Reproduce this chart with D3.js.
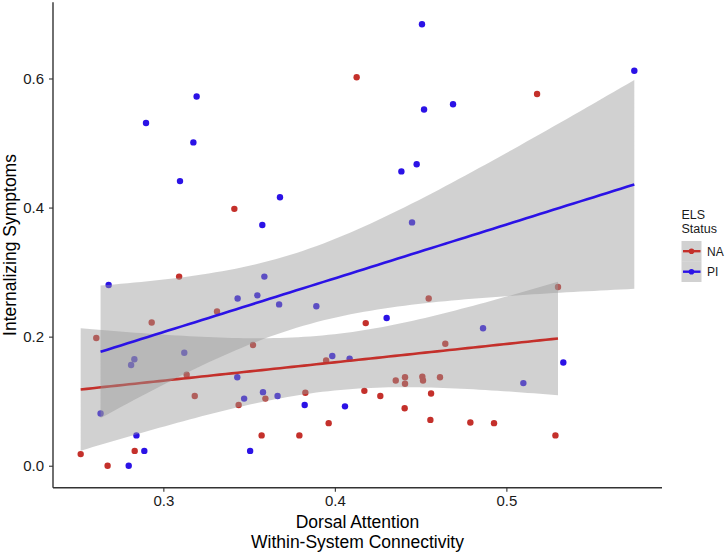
<!DOCTYPE html>
<html>
<head>
<meta charset="utf-8">
<script src="https://cdn.jsdelivr.net/npm/d3@7"></script>
<style>
  html, body { margin: 0; padding: 0; background: #fff; }
  svg { display: block; }
  text { font-family: "Liberation Sans", Arial, Helvetica, sans-serif; }
</style>
</head>
<body>
<svg id="chart" width="725" height="555"></svg>
<script>
// ---- data ----
const groups = ["NA", "PI"];
const groupColors = ["#c4302b", "#2b12e6"];

const naX = [0.3414, 0.4127, 0.5179, 0.3092, 0.3313, 0.2932, 0.2609, 0.3136, 0.3183, 0.3439,
             0.2833, 0.2518, 0.2675, 0.4547, 0.4180, 0.3523, 0.4644, 0.3949, 0.4355, 0.4409,
             0.4409, 0.4510, 0.4514, 0.4613, 0.3595, 0.3828, 0.4172, 0.4265, 0.4407, 0.4561,
             0.3964, 0.3573, 0.3793, 0.4557, 0.4790, 0.4928, 0.5301, 0.5286];
const naY = [0.398, 0.602, 0.576, 0.293, 0.239, 0.222, 0.198, 0.141, 0.108, 0.094,
             0.023, 0.018, 0.000, 0.259, 0.221, 0.187, 0.189, 0.163, 0.132, 0.137,
             0.127, 0.138, 0.132, 0.137, 0.104, 0.113, 0.116, 0.108, 0.089, 0.112,
             0.066, 0.047, 0.047, 0.071, 0.067, 0.066, 0.277, 0.047];

const piX = [0.3194, 0.2899, 0.3175, 0.3097, 0.4508, 0.4520, 0.4689, 0.4477, 0.4388, 0.3680,
             0.3577, 0.4450, 0.5746, 0.2681, 0.3433, 0.3122, 0.2831, 0.2812, 0.3431, 0.3471,
             0.2634, 0.2843, 0.2889, 0.3506, 0.2798, 0.3589, 0.3548, 0.3675, 0.3892, 0.4302,
             0.3985, 0.4086, 0.3581, 0.3666, 0.3824, 0.4059, 0.4864, 0.5332, 0.5099];
const piY = [0.572, 0.531, 0.501, 0.441, 0.684, 0.552, 0.560, 0.467, 0.456, 0.416,
             0.373, 0.377, 0.612, 0.280, 0.259, 0.175, 0.165, 0.156, 0.137, 0.104,
             0.081, 0.047, 0.023, 0.023, 0.000, 0.293, 0.264, 0.250, 0.247, 0.229,
             0.170, 0.166, 0.114, 0.108, 0.094, 0.092, 0.213, 0.160, 0.128];

const xTicks = [0.3, 0.4, 0.5];
const yTicks = [0.0, 0.2, 0.4, 0.6];
const xTitle = ["Dorsal Attention", "Within-System Connectivity"];
const yTitle = "Internalizing Symptoms";
const legendTitle = ["ELS", "Status"];

// ---- build ----
const series = [
  { name: groups[0], color: groupColors[0], pts: naX.map((x, i) => ({ x, y: naY[i] })) },
  { name: groups[1], color: groupColors[1], pts: piX.map((x, i) => ({ x, y: piY[i] })) }
];
const allPts = series.flatMap(s => s.pts);

function expand(ext) { const d = (ext[1] - ext[0]) * 0.05; return [ext[0] - d, ext[1] + d]; }

const panel = { left: 53, right: 662, top: 2.2, bottom: 487.8 };
const x = d3.scaleLinear().domain(expand(d3.extent(allPts, d => d.x))).range([panel.left, panel.right]);
const y = d3.scaleLinear().domain(expand(d3.extent(allPts, d => d.y))).range([panel.bottom, panel.top]);

// t quantile (0.975) approximation
function tq(df) {
  const z = 1.959964;
  const g1 = (Math.pow(z, 3) + z) / 4;
  const g2 = (5 * Math.pow(z, 5) + 16 * Math.pow(z, 3) + 3 * z) / 96;
  const g3 = (3 * Math.pow(z, 7) + 19 * Math.pow(z, 5) + 17 * Math.pow(z, 3) - 15 * z) / 384;
  return z + g1 / df + g2 / (df * df) + g3 / (df * df * df);
}

function fit(pts) {
  const n = pts.length;
  const mx = d3.mean(pts, d => d.x), my = d3.mean(pts, d => d.y);
  const sxx = d3.sum(pts, d => (d.x - mx) ** 2);
  const sxy = d3.sum(pts, d => (d.x - mx) * (d.y - my));
  const b = sxy / sxx, a = my - b * mx;
  const sse = d3.sum(pts, d => (d.y - a - b * d.x) ** 2);
  const s = Math.sqrt(sse / (n - 2));
  const t = tq(n - 2);
  const [x0, x1] = d3.extent(pts, d => d.x);
  return d3.range(80).map(i => {
    const xv = x0 + (x1 - x0) * i / 79;
    const yv = a + b * xv;
    const se = s * Math.sqrt(1 / n + (xv - mx) ** 2 / sxx);
    return { x: xv, y: yv, lo: yv - t * se, hi: yv + t * se };
  });
}

const svg = d3.select("#chart");

// points
series.forEach(s => {
  svg.append("g").selectAll("circle").data(s.pts).join("circle")
    .attr("cx", d => x(d.x)).attr("cy", d => y(d.y)).attr("r", 3.2)
    .attr("fill", s.color);
});

// smooths (ribbon + line per group)
series.forEach(s => {
  const f = fit(s.pts);
  svg.append("path").datum(f)
    .attr("d", d3.area().x(d => x(d.x)).y0(d => y(d.lo)).y1(d => y(d.hi)))
    .attr("fill", "#999999").attr("fill-opacity", 0.45);
  svg.append("path").datum(f)
    .attr("d", d3.line().x(d => x(d.x)).y(d => y(d.y)))
    .attr("fill", "none").attr("stroke", s.color).attr("stroke-width", 2.6);
});

// axes
const axisColor = "#333333";
const xAxis = svg.append("g").attr("transform", `translate(0,${panel.bottom})`)
  .call(d3.axisBottom(x).tickValues(xTicks).tickSize(4).tickPadding(4).tickFormat(d3.format(".1f")));
const yAxis = svg.append("g").attr("transform", `translate(${panel.left},0)`)
  .call(d3.axisLeft(y).tickValues(yTicks).tickSize(4).tickPadding(5).tickFormat(d3.format(".1f")));
[xAxis, yAxis].forEach(g => {
  g.select(".domain").attr("stroke", axisColor).attr("stroke-width", 1.4);
  g.selectAll(".tick line").attr("stroke", axisColor).attr("stroke-width", 1.1);
  g.selectAll(".tick text").attr("fill", "#1a1a1a").style("font-size", "15px")
    .style("font-family", "'Liberation Sans', Arial, sans-serif");
});
xAxis.select(".domain").attr("d", `M${panel.left},0H${panel.right}`);
yAxis.select(".domain").attr("d", `M0,${panel.top}V${panel.bottom}`);

// axis titles
const cx = (panel.left + panel.right) / 2;
xTitle.forEach((t, i) => {
  svg.append("text").attr("x", cx).attr("y", 528 + i * 20)
    .attr("text-anchor", "middle").attr("fill", "#000").style("font-size", "17.5px").text(t);
});
svg.append("text")
  .attr("transform", `translate(16,${(panel.top + panel.bottom) / 2}) rotate(-90)`)
  .attr("text-anchor", "middle").attr("fill", "#000").style("font-size", "17.5px").text(yTitle);

// legend
const lg = svg.append("g");
legendTitle.forEach((t, i) => {
  lg.append("text").attr("x", 681.5).attr("y", 219 + i * 13.5)
    .attr("fill", "#1a1a1a").style("font-size", "12.5px").text(t);
});
series.forEach((s, i) => {
  const ky = 241 + i * 20.5;
  lg.append("rect").attr("x", 681.5).attr("y", ky).attr("width", 20).attr("height", 20.5)
    .attr("fill", "#999999").attr("fill-opacity", 0.45);
  lg.append("line").attr("x1", 683).attr("x2", 700.5).attr("y1", ky + 10.2).attr("y2", ky + 10.2)
    .attr("stroke", s.color).attr("stroke-width", 2.4);
  lg.append("circle").attr("cx", 691.5).attr("cy", ky + 10.2).attr("r", 2.8).attr("fill", s.color);
  lg.append("text").attr("x", 707).attr("y", ky + 14.5)
    .attr("fill", "#1a1a1a").style("font-size", "12px").text(s.name);
});
</script>
</body>
</html>
